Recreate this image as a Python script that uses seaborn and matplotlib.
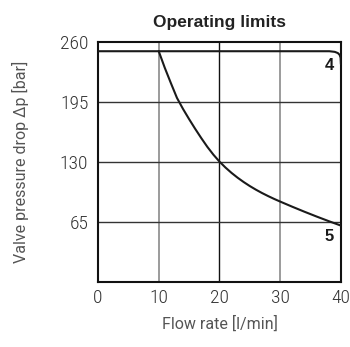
import pandas as pd
import matplotlib
matplotlib.use("Agg")
import matplotlib.pyplot as plt
from matplotlib import font_manager
import seaborn as sns

# curva 4: limite de presion
flow_4 = [0, 10, 20, 30, 38.1, 39.0, 39.5, 39.8, 39.95, 40.0]
dp_4 = [250, 250, 250, 250, 250, 249.3, 248, 246, 243, 236]

# curva 5: limite de potencia
flow_5 = [10, 11, 12, 13, 14, 15, 16, 17, 18, 19, 20, 21, 22, 23, 24, 25,
          26, 27, 28, 29, 30, 32, 34, 36, 38, 40]
dp_5 = [250, 232, 215.5, 199.5, 187.5, 176.5, 166, 156, 146.5, 138, 130.5, 124,
        118.2, 113, 108.3, 104, 100.1, 96.5, 93.2, 90.1, 87.2, 81.6, 76.2, 71,
        66, 61.2]

x_ticks = [0, 10, 20, 30, 40]
y_ticks = [65, 130, 195, 260]

df4 = pd.DataFrame({"flow": flow_4, "dp": dp_4})
df5 = pd.DataFrame({"flow": flow_5, "dp": dp_5})

sns.set_style("white")
plt.rcParams['font.family'] = ['Liberation Sans', 'DejaVu Sans']

# buscar una fuente estrecha para los numeros
names = {f.name for f in font_manager.fontManager.ttflist}
tick_family = 'DejaVu Sans'
for cand in ['Liberation Sans Narrow', 'Roboto Condensed', 'Open Sans Condensed', 'DejaVu Sans Condensed']:
    if cand in names:
        tick_family = cand
        break
label_family = 'Roboto' if 'Roboto' in names else 'Liberation Sans'

fig = plt.figure(figsize=(3.5, 3.47), dpi=100)
ax = fig.add_axes([0.28, 0.187, 0.694, 0.692])

# rejilla: 20 y horizontales oscuras, 10/30 grises
for xv in [10, 30]:
    ax.axvline(xv, color="#8a8a8a", lw=1.2, zorder=1)
ax.axvline(20, color="#111111", lw=1.0, zorder=1)
for yv in [65, 130, 195]:
    ax.axhline(yv, color="#333333", lw=1.0, zorder=1)

sns.lineplot(data=df4, x="flow", y="dp", ax=ax, color="#1a1a1a", lw=1.5,
             sort=False, estimator=None, zorder=3)
sns.lineplot(data=df5, x="flow", y="dp", ax=ax, color="#1a1a1a", lw=1.5,
             sort=False, estimator=None, zorder=3)

ax.text(38.1, 234, "4", fontsize=12, fontweight="bold", ha="center", va="center",
        color="#1a1a1a")
ax.text(38.1, 49, "5", fontsize=12, fontweight="bold", ha="center", va="center",
        color="#1a1a1a")

ax.set_xlim(0, 40)
ax.set_ylim(0, 260)
ax.set_xticks(x_ticks)
ax.set_yticks(y_ticks)
ax.set_xticklabels([str(v) for v in x_ticks], family=tick_family, fontsize=14,
                   color="#333333", fontweight="light")
ax.set_yticklabels([str(v) for v in y_ticks], family=tick_family, fontsize=14,
                   color="#333333", fontweight="light")
ax.tick_params(axis="y", length=0, pad=7)
ax.tick_params(axis="x", length=0, pad=5)

for s in ax.spines.values():
    s.set_color("#111111")
    s.set_linewidth(1.5)

ax.set_xlabel("Flow rate [l/min]", fontsize=11.5, color="#555555", labelpad=6,
              family=label_family, fontweight="normal")
ax.set_ylabel("Valve pressure drop Δp [bar]", fontsize=11.5, color="#555555", labelpad=22,
              family=label_family, fontweight="normal")
ax.set_title("Operating limits", fontsize=12.5, fontweight="bold", color="#222222", pad=11)

fig.savefig("out.png", dpi=100)
